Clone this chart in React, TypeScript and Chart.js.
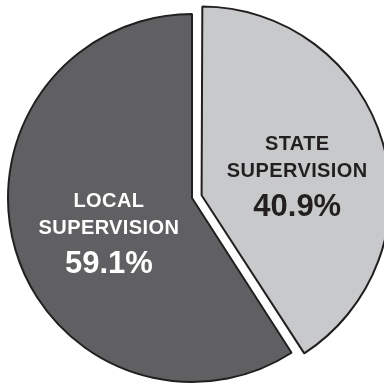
import React, { useEffect, useRef } from "react";
import { Chart, registerables } from "chart.js";

Chart.register(...registerables);

const categories = ["STATE SUPERVISION", "LOCAL SUPERVISION"];
const labelLines = [
  ["STATE", "SUPERVISION"],
  ["LOCAL", "SUPERVISION"],
];
const values = [40.9, 59.1];
const sliceColors = ["#c8c9cb", "#605f62"];
const textColors = ["#231f20", "#ffffff"];
const sliceOffsets = [40, 0];

// label placement relative to each slice: angle nudge (deg) and radius fraction
const labelPlacement = [
  { da: 5.1, rf: 0.53 },
  { da: -6.5, rf: 0.49 },
];

const sliceLabelPlugin = {
  id: "sliceLabels",
  afterDatasetsDraw(chart: any) {
    const ctx = chart.ctx as CanvasRenderingContext2D;
    const meta = chart.getDatasetMeta(0);
    meta.data.forEach((arc: any, i: number) => {
      const { x, y, startAngle, endAngle, outerRadius } = arc.getProps(
        ["x", "y", "startAngle", "endAngle", "outerRadius"],
        true
      );
      const mid = (startAngle + endAngle) / 2;
      const t = (sliceOffsets[i] || 0) / 4;
      const cx = x + Math.cos(mid) * t;
      const cy = y + Math.sin(mid) * t;
      const p = labelPlacement[i];
      const a = mid + (p.da * Math.PI) / 180;
      const bx = cx + Math.cos(a) * p.rf * outerRadius;
      const by = cy + Math.sin(a) * p.rf * outerRadius;
      ctx.save();
      ctx.fillStyle = textColors[i];
      ctx.textAlign = "center";
      ctx.textBaseline = "alphabetic";
      ctx.font = 'bold 20px "Liberation Sans", Arial, sans-serif';
      (ctx as any).letterSpacing = "0.4px";
      ctx.fillText(labelLines[i][0], bx, by - 25.8);
      ctx.fillText(labelLines[i][1], bx, by + 1);
      ctx.font = 'bold 31px "Liberation Sans", Arial, sans-serif';
      (ctx as any).letterSpacing = "0px";
      ctx.fillText(values[i].toFixed(1) + "%", bx, by + 40);
      ctx.restore();
    });
  },
};

export default function App() {
  const canvasRef = useRef<HTMLCanvasElement | null>(null);

  useEffect(() => {
    if (!canvasRef.current) return;
    const chart = new Chart(canvasRef.current, {
      type: "pie",
      data: {
        labels: categories,
        datasets: [
          {
            data: values,
            backgroundColor: sliceColors,
            borderColor: "#231f20",
            borderWidth: 2,
            offset: sliceOffsets,
          },
        ],
      },
      options: {
        responsive: false,
        animation: false,
        events: [],
        radius: 184,
        layout: { padding: { top: 11, left: 0, right: 0, bottom: 0 } },
        plugins: {
          legend: { display: false },
          tooltip: { enabled: false },
        },
      } as any,
      plugins: [sliceLabelPlugin],
    });
    return () => chart.destroy();
  }, []);

  return (
    <div style={{ position: "absolute", left: 0, top: 0, width: 384, height: 385, background: "#fff" }}>
      <canvas ref={canvasRef} width={384} height={385} style={{ display: "block" }} />
    </div>
  );
}
